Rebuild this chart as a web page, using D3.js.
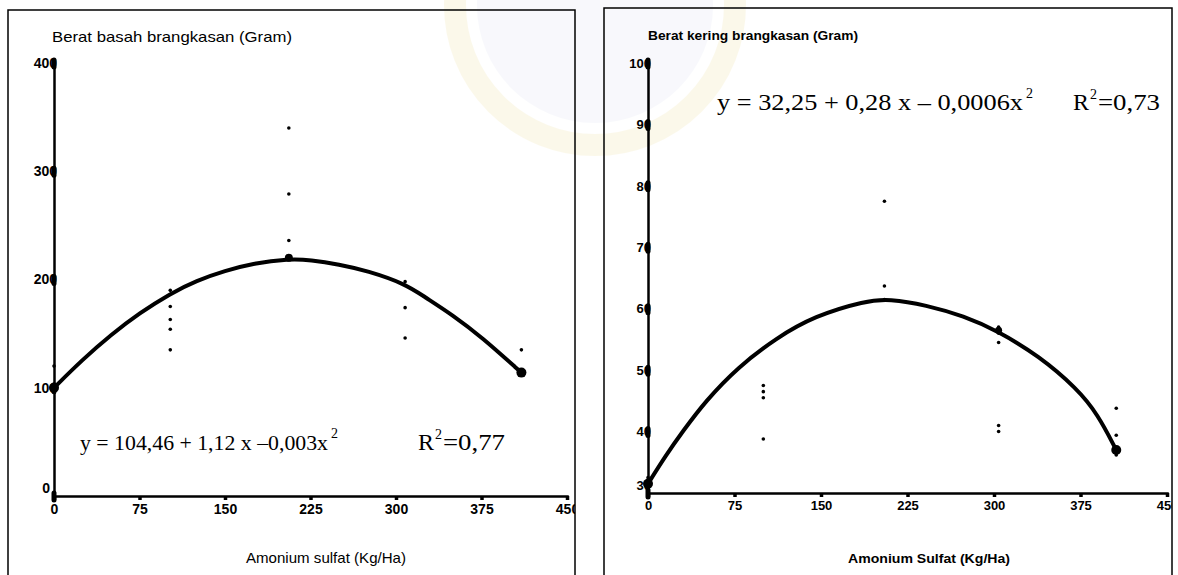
<!DOCTYPE html>
<html>
<head>
<meta charset="utf-8">
<script src="https://cdn.jsdelivr.net/npm/d3@7"></script>
<style>
  body { margin: 0; background: #fff; }
  svg { display: block; }
</style>
</head>
<body>
<svg id="chart" width="1178" height="575"></svg>
<script>
// ---- data ----
const xTicks = [0, 75, 150, 225, 300, 375, 450];

// left: fresh weight (Berat basah)
const basahTicks = [0, 100, 200, 300, 400];
const basahDoses = [0, 102, 206, 308, 410];
const basahObs = [
  [101, 120],
  [190, 175, 163, 154, 135],
  [340, 279, 236, 221],
  [198, 174, 146],
  [135, 116, 113]
];
const basahCurveX = [0, 25, 50, 75, 102, 125, 150, 175, 206, 225, 250, 275, 308, 325, 350, 375, 410];
const basahCurveY = [100, 126, 149, 169, 187, 199, 208, 215, 219, 218, 214, 208, 196, 184, 167, 147, 114];

// right: dry weight (Berat kering)
const keringTicks = [30, 40, 50, 60, 70, 80, 90, 100];
const keringDoses = [0, 100, 205, 304, 406];
const keringObs = [
  [31.5, 32.5],
  [47.5, 46.5, 45.5, 38.8],
  [77.5, 63.7, 61.5],
  [57, 56, 54.5, 41, 40],
  [43.8, 39.4, 37, 36.2]
];
const keringCurveX = [0, 15, 30, 50, 78, 111, 144, 189, 209, 241, 274, 303, 339, 372, 390, 406];
const keringCurveY = [31.5, 36, 40, 45, 50.5, 55.2, 58.8, 61.3, 61.6, 60.6, 58.8, 56.4, 52.3, 47, 42.8, 37];

const svg = d3.select("#chart");

// faint watermark from the scanned page
const wm = svg.append("g").attr("opacity", 0.25);
wm.append("circle").attr("cx", 595).attr("cy", 5).attr("r", 118).attr("fill", "#e4e7f5");
wm.append("circle").attr("cx", 595).attr("cy", 5).attr("r", 140)
  .attr("fill", "none").attr("stroke", "#f3e7b0").attr("stroke-width", 22);

function drawPanel(opt) {
  const clipId = "clip" + opt.id;
  svg.append("clipPath").attr("id", clipId)
    .append("rect").attr("x", opt.frame[0]).attr("y", opt.frame[1])
    .attr("width", opt.frame[2]).attr("height", opt.frame[3]);

  const g = svg.append("g").attr("clip-path", `url(#${clipId})`);

  const x = d3.scaleLinear().domain([0, 450]).range(opt.xRange);
  const y = d3.scaleLinear().domain(opt.yDomain).range(opt.yRange);

  // x axis
  const xAxis = g.append("g")
    .attr("transform", `translate(0,${opt.yRange[0]})`)
    .call(d3.axisBottom(x).tickValues(xTicks).tickSize(4).tickPadding(4));
  xAxis.select(".domain").attr("stroke", "#000").attr("stroke-width", 2.5);
  xAxis.selectAll(".tick line").attr("stroke", "#000").attr("stroke-width", 3.5);
  xAxis.selectAll(".tick text")
    .attr("fill", "#000")
    .attr("font-family", "Liberation Sans, Arial, sans-serif")
    .attr("font-weight", "bold")
    .attr("font-size", opt.tickFont);

  // y axis, labels tucked under the axis line like the scan
  const yAxis = g.append("g")
    .attr("transform", `translate(${opt.xRange[0]},0)`)
    .call(d3.axisLeft(y).tickValues(opt.yTicks).tickSize(0).tickPadding(-3));
  yAxis.select(".domain").attr("stroke", "#000").attr("stroke-width", 2.5);
  yAxis.selectAll(".tick text")
    .attr("fill", "#000")
    .attr("font-family", "Liberation Sans, Arial, sans-serif")
    .attr("font-weight", "bold")
    .attr("font-size", opt.tickFont)
    .attr("x", (d, i) => i === 0 && d === 0 ? -4 : 3)
    .attr("dy", (d, i) => i === 0 ? "-0.25em" : "0.32em");
  yAxis.selectAll(".tick").append("rect")
    .attr("x", -2.5).attr("y", -6).attr("width", 5).attr("height", 12)
    .attr("rx", 2.5).attr("fill", "#000");

  // fitted curve
  const pts = opt.curveX.map((v, i) => [v, opt.curveY[i]]);
  g.append("path")
    .datum(pts)
    .attr("fill", "none")
    .attr("stroke", "#000")
    .attr("stroke-width", 4)
    .attr("stroke-linecap", "round")
    .attr("d", d3.line().x(d => x(d[0])).y(d => y(d[1])).curve(d3.curveBasis));

  // observations
  const obs = [];
  opt.doses.forEach((d, i) => opt.obs[i].forEach(v => obs.push([d, v])));
  g.selectAll(".pt")
    .data(obs)
    .join("circle")
    .attr("cx", d => x(d[0]))
    .attr("cy", d => y(d[1]))
    .attr("r", 1.8)
    .attr("fill", "#000");

  // heavy dots where points sit on the curve
  opt.bigDots.forEach(([dx, dy, r]) => {
    g.append("circle")
      .attr("cx", x(dx))
      .attr("cy", y(dy))
      .attr("r", r)
      .attr("fill", "#000");
  });

  // titles
  g.append("text")
    .attr("x", opt.yTitle[0]).attr("y", opt.yTitle[1])
    .attr("font-family", "Liberation Sans, Arial, sans-serif")
    .attr("font-size", opt.titleFont)
    .attr("font-weight", opt.titleWeight)
    .attr("textLength", opt.yTitle[2])
    .attr("lengthAdjust", "spacingAndGlyphs")
    .text(opt.yTitleText);
  g.append("text")
    .attr("x", opt.xTitle[0]).attr("y", opt.xTitle[1])
    .attr("font-family", "Liberation Sans, Arial, sans-serif")
    .attr("font-size", opt.titleFont)
    .attr("font-weight", opt.titleWeight)
    .attr("textLength", opt.xTitle[2])
    .attr("lengthAdjust", "spacingAndGlyphs")
    .text(opt.xTitleText);

  // equation: main part, superscript, then R²
  const eqFont = "Liberation Serif, Times New Roman, serif";
  const [ex, ey, eLen, rx, rLen, eSize] = opt.eq;
  g.append("text")
    .attr("x", ex).attr("y", ey)
    .attr("font-family", eqFont).attr("font-size", eSize)
    .attr("textLength", eLen).attr("lengthAdjust", "spacingAndGlyphs")
    .text(opt.eqMain);
  g.append("text")
    .attr("x", ex + eLen + 3).attr("y", ey - 12)
    .attr("font-family", eqFont).attr("font-size", 14)
    .text("2");
  g.append("text")
    .attr("x", rx).attr("y", ey)
    .attr("font-family", eqFont).attr("font-size", 24)
    .text("R");
  g.append("text")
    .attr("x", rx + 17).attr("y", ey - 11)
    .attr("font-family", eqFont).attr("font-size", 14)
    .text("2");
  g.append("text")
    .attr("x", rx + 25).attr("y", ey)
    .attr("font-family", eqFont).attr("font-size", 24)
    .attr("textLength", rLen - 25).attr("lengthAdjust", "spacingAndGlyphs")
    .text(opt.eqR);

  // panel frame
  svg.append("rect")
    .attr("x", opt.frame[0]).attr("y", opt.frame[1])
    .attr("width", opt.frame[2]).attr("height", opt.frame[3])
    .attr("fill", "none").attr("stroke", "#000").attr("stroke-width", 1.5);
}

drawPanel({
  id: "L",
  frame: [8, 10, 567, 600],
  xRange: [54, 567],
  yDomain: [0, 400],
  yRange: [496, 63],
  yTicks: basahTicks,
  doses: basahDoses,
  obs: basahObs,
  curveX: basahCurveX,
  curveY: basahCurveY,
  bigDots: [[0, 100, 5], [206, 220, 4], [410, 114, 5]],
  tickFont: 14,
  titleFont: 15,
  titleWeight: "normal",
  yTitle: [52, 42, 240],
  yTitleText: "Berat basah brangkasan (Gram)",
  xTitle: [246, 563, 160],
  xTitleText: "Amonium sulfat (Kg/Ha)",
  eq: [80, 450, 248, 418, 87, 22],
  eqMain: "y = 104,46 + 1,12 x \u20130,003x",
  eqR: "=0,77"
});

drawPanel({
  id: "R",
  frame: [604, 8, 568, 600],
  xRange: [648, 1167],
  yDomain: [30, 100],
  yRange: [493, 63],
  yTicks: keringTicks,
  doses: keringDoses,
  obs: keringObs,
  curveX: keringCurveX,
  curveY: keringCurveY,
  bigDots: [[0, 31.5, 5], [304, 56.5, 3.5], [406, 37, 5]],
  tickFont: 13,
  titleFont: 12,
  titleWeight: "bold",
  yTitle: [648, 40, 210],
  yTitleText: "Berat kering brangkasan (Gram)",
  xTitle: [848, 563, 162],
  xTitleText: "Amonium Sulfat (Kg/Ha)",
  eq: [717, 110, 306, 1073, 87, 24],
  eqMain: "y = 32,25 + 0,28 x \u2013 0,0006x",
  eqR: "=0,73"
});
</script>
</body>
</html>
